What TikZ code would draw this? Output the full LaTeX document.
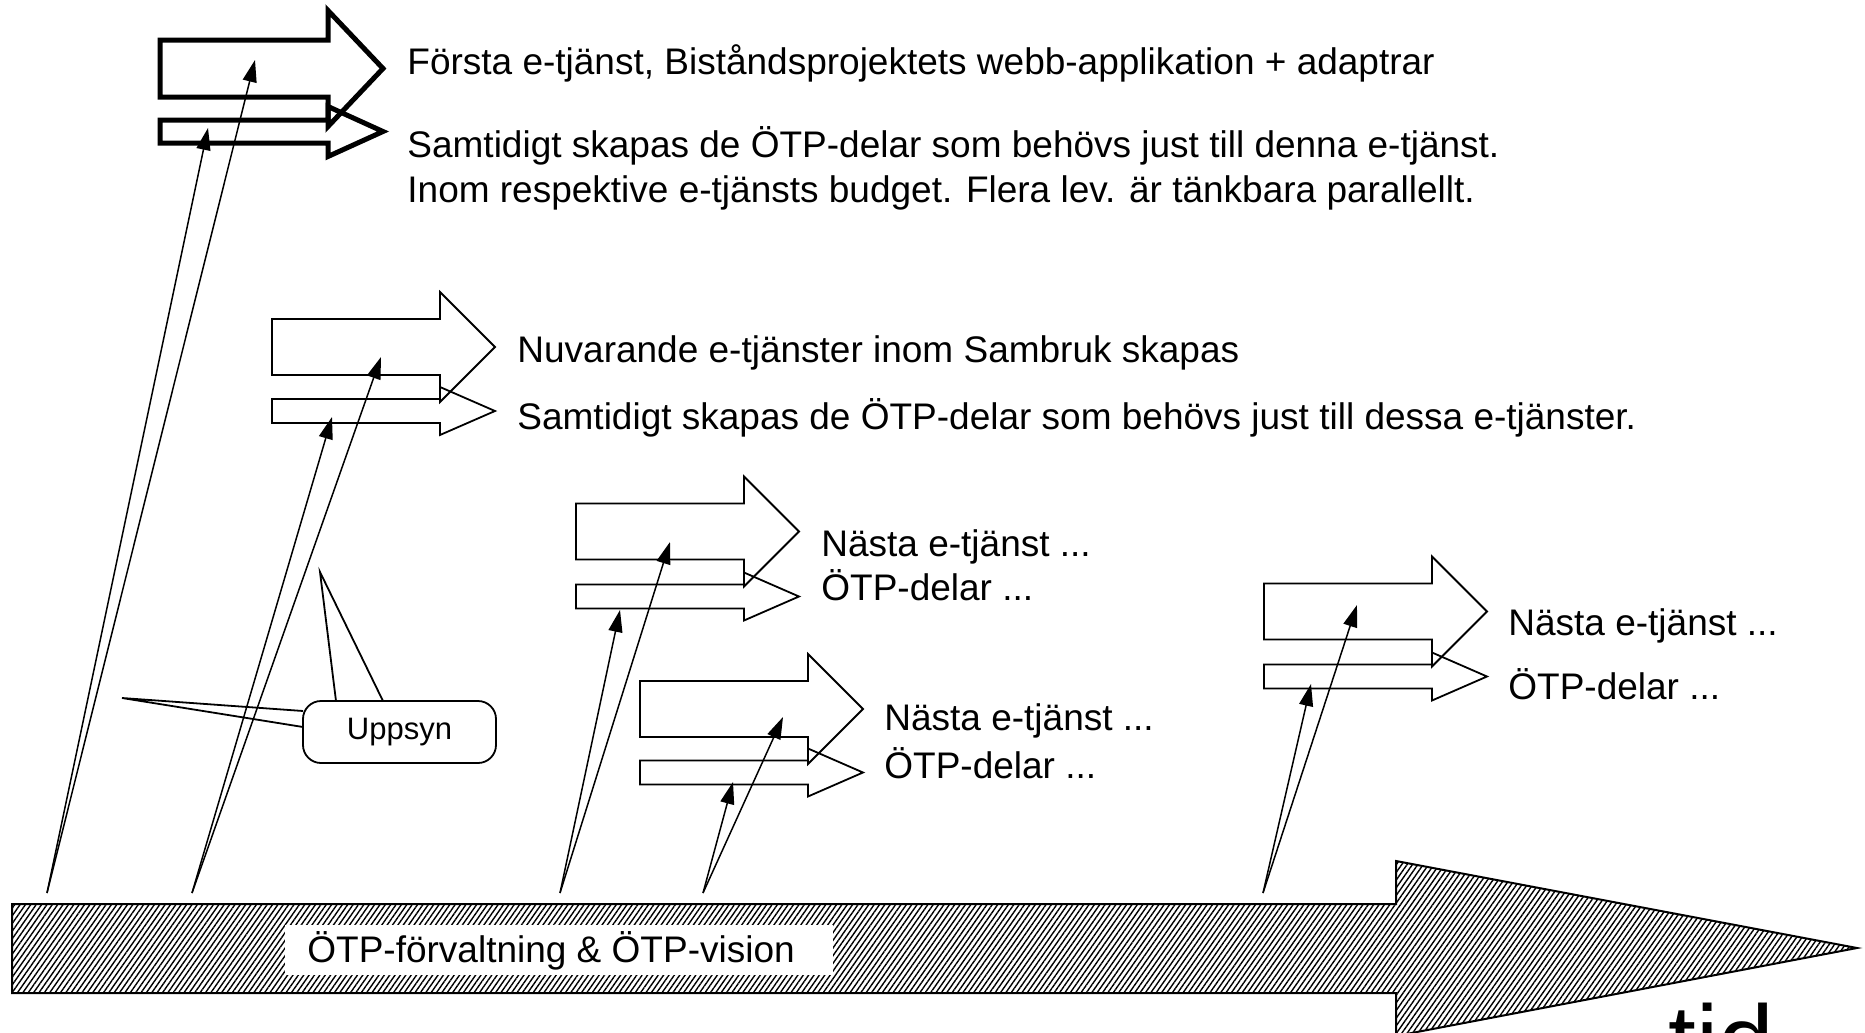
\documentclass[tikz,border=0pt]{standalone}
\usepackage{fontspec}
\setmainfont{Liberation Sans}
\usetikzlibrary{arrows.meta,patterns.meta,calc}
\newcommand\myblockarrow[5]{%
 \draw[#5] ({#1},{#2-#3}) -- ({#1+168},{#2-#3}) -- ({#1+168},{#2-#4}) -- ({#1+223},{#2}) -- ({#1+168},{#2+#4}) -- ({#1+168},{#2+#3}) -- ({#1},{#2+#3}) -- cycle;}
\begin{document}
\begin{tikzpicture}[x=0.5pt,y=-0.5pt,
 thickarr/.style={line width=2.5pt, line join=miter, miter limit=10},
 thinarr/.style={line width=0.9pt, line join=miter, miter limit=10},
 conn/.style={line width=0.75pt,-{Triangle[length=11pt,width=7pt]}},
 lbl/.style={anchor=base west, inner sep=0pt, font=\fontsize{18.5}{22}\selectfont},
]
\useasboundingbox (0,0) rectangle (1865,1033);

% big time arrow
\draw[line width=1pt, pattern={Lines[angle=55,distance=2.2pt,line width=0.7pt]}]
 (12,904) -- (1396,904) -- (1396,861) -- (1857,948) -- (1396,1036) -- (1396,993) -- (12,993) -- cycle;
\node[fill=white, anchor=north west, minimum width=274pt, minimum height=25pt, inner sep=0pt] (bl) at (285,925) {};
\node[lbl] (bt) at (307,962) {ÖTP-förvaltning \& ÖTP-vision};
\node[anchor=base west, inner sep=0pt, font=\fontsize{50}{54}\selectfont] (tid) at (1668,1075) {tid};

% block arrows
\myblockarrow{160}{68.5}{28.5}{58}{thickarr}
\myblockarrow{160}{131.5}{11.5}{25}{thickarr}
\myblockarrow{272}{347}{28}{55}{thinarr}
\myblockarrow{272}{411}{12}{24}{thinarr}
\myblockarrow{576}{531.5}{28}{55}{thinarr}
\myblockarrow{576}{596.5}{12}{24}{thinarr}
\myblockarrow{640}{709}{28}{55}{thinarr}
\myblockarrow{640}{772.5}{12}{24}{thinarr}
\myblockarrow{1264}{611.5}{28}{55}{thinarr}
\myblockarrow{1264}{676.5}{12}{24}{thinarr}

% texts
\node[lbl] (t1a) at (407,74) {Första e-tjänst, Biståndsprojektets webb-applikation + adaptrar};
\node[lbl] (t1b) at (407,157) {Samtidigt skapas de ÖTP-delar som behövs just till denna e-tjänst.};
\node[lbl] (t1c) at (407,202) {Inom respektive e-tjänsts budget. Flera lev. är tänkbara parallellt.};
\node[lbl] (t2a) at (517,362) {Nuvarande e-tjänster inom Sambruk skapas};
\node[lbl] (t2b) at (517,429) {Samtidigt skapas de ÖTP-delar som behövs just till dessa e-tjänster.};
\node[lbl] (t3a) at (821,556) {Nästa e-tjänst ...};
\node[lbl] (t3b) at (821,600) {ÖTP-delar ...};
\node[lbl] (t4a) at (884,730) {Nästa e-tjänst ...};
\node[lbl] (t4b) at (884,778) {ÖTP-delar ...};
\node[lbl] (t5a) at (1508,635) {Nästa e-tjänst ...};
\node[lbl] (t5b) at (1508,699) {ÖTP-delar ...};

% connector coordinates
\coordinate (s1) at (47,893);
\coordinate (e1a) at (255,60);
\coordinate (e1b) at (208,128);
\coordinate (s2) at (192,893);
\coordinate (e2a) at (381,357);
\coordinate (e2b) at (332,417);
\coordinate (s3) at (560,893);
\coordinate (e3a) at (670,542);
\coordinate (e3b) at (620,610);
\coordinate (s4) at (703,893);
\coordinate (e4a) at (783,717);
\coordinate (e4b) at (733,782);
\coordinate (s5) at (1263,893);
\coordinate (e5a) at (1357,605);
\coordinate (e5b) at (1311,684);
\foreach \i in {1,...,5}{
 \draw[conn] (s\i) -- (e\i a);
 \draw[conn] (s\i) -- (e\i b);
}

% Uppsyn callout
\coordinate (q1) at (122,698);
\coordinate (q2) at (320,572);
\coordinate (r1) at (303,711);
\coordinate (r2) at (303,727);
\coordinate (r3) at (336,701);
\coordinate (r4) at (383,701);
\draw[line width=0.9pt] (r1) -- (q1) -- (r2);
\draw[line width=0.9pt] (r3) -- (q2) -- (r4);
\node[draw, line width=0.9pt, fill=white, rounded corners=9pt, minimum width=96.5pt, minimum height=31pt, inner sep=0pt, font=\fontsize{15.5}{18}\selectfont] (up) at (399.5,732) {Uppsyn};
\end{tikzpicture}
\end{document}
